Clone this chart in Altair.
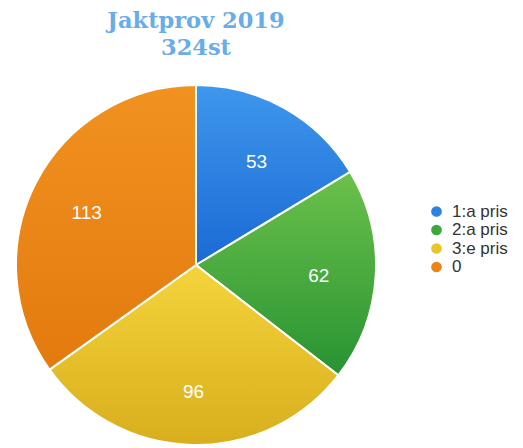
import altair as alt
import pandas as pd

categories = ["1:a pris", "2:a pris", "3:e pris", "0"]
values = [53, 62, 96, 113]
colors = ["#2f82e2", "#3ca83a", "#eac52a", "#ec8518"]
grad_top = ["#3f97ec", "#6cc14a", "#f4d43c", "#f19220"]
grad_bottom = ["#1a6ad4", "#279333", "#d8ae1c", "#e37a0e"]
title_lines = ["Jaktprov 2019", "324st"]

df = pd.DataFrame({"cat": categories, "value": values, "idx": list(range(len(values)))})

W, H = 507, 370
CX, CY, R = 188, 187, 180

base = (
    alt.Chart(df)
    .transform_window(cum="sum(value)", sort=[alt.SortField("idx")], frame=[None, 0])
    .transform_joinaggregate(total="sum(value)")
    .transform_calculate(
        start="(datum.cum - datum.value) / datum.total * 2 * PI",
        end="datum.cum / datum.total * 2 * PI",
        mid="(datum.cum - datum.value / 2) / datum.total * 2 * PI",
    )
)

solid = base.mark_arc(x=CX, y=CY, outerRadius=R, stroke="white", strokeWidth=2).encode(
    theta=alt.Theta("start:Q", scale=None),
    theta2="end:Q",
    color=alt.Color(
        "cat:N",
        scale=alt.Scale(domain=categories, range=colors),
        legend=alt.Legend(
            orient="none", legendX=420, legendY=125, title=None,
            symbolType="circle", symbolSize=115, symbolStrokeWidth=0,
            labelFont="Liberation Sans", labelFontSize=17, labelColor="#333333",
            rowPadding=0.5, labelOffset=7,
        ),
    ),
)

grads = []
for i, c in enumerate(categories):
    grads.append(
        base.transform_filter(alt.datum.cat == c)
        .mark_arc(
            x=CX, y=CY, outerRadius=R, stroke="white", strokeWidth=2,
            fill=alt.Gradient(
                gradient="linear",
                stops=[alt.GradientStop(color=grad_top[i], offset=0),
                       alt.GradientStop(color=grad_bottom[i], offset=1)],
                x1=0.5, y1=0, x2=0.5, y2=1,
            ),
        )
        .encode(theta=alt.Theta("start:Q", scale=None), theta2="end:Q")
    )

labels = base.mark_text(
    x=CX, y=CY, radius=123, dy=4, font="Liberation Sans", fontSize=19, color="white"
).encode(theta=alt.Theta("mid:Q", scale=None), text="value:Q")

chart = (
    alt.layer(solid, *grads, labels)
    .properties(
        width=W, height=H,
        title=alt.TitleParams(
            text=title_lines, font="DejaVu Serif", fontSize=22.5, fontWeight="bold",
            color="#68acea", anchor="middle", dx=CX - W / 2, offset=19, lineHeight=27,
        ),
        autosize=alt.AutoSizeParams(type="none"),
        padding={"left": 0, "top": 70, "right": 0, "bottom": 0},
    )
    .configure_view(stroke=None)
)

chart.save("out.html", embed_options={"renderer": "svg", "actions": False})
